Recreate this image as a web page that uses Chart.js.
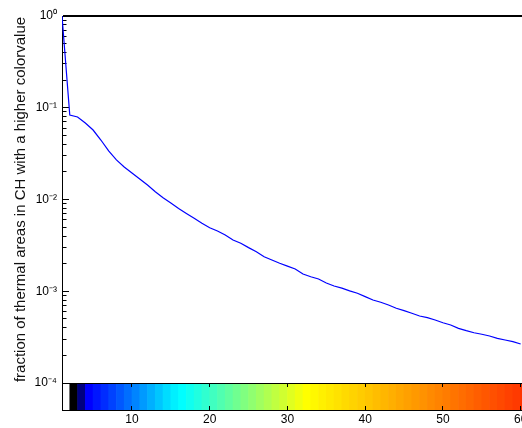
<!DOCTYPE html>
<html>
<head>
<meta charset="utf-8">
<script src="https://cdn.jsdelivr.net/npm/chart.js@4.4.0/dist/chart.umd.min.js"></script>
<style>
  html, body { margin: 0; padding: 0; background: #fff; overflow: hidden; width: 522px; height: 428px; }
  #wrap { width: 545px; height: 428px; }
</style>
</head>
<body>
<div id="wrap"><canvas id="myChart" width="545" height="428"></canvas></div>
<script>
// colour values (x) and the fraction of thermal areas above each one
const colorValues = [1, 2, 3, 4, 5, 6, 7, 8, 9, 10, 11, 12, 13, 14, 15, 16, 17, 18, 19, 20,
  21, 22, 23, 24, 25, 26, 27, 28, 29, 30, 31, 32, 33, 34, 35, 36, 37, 38, 39, 40,
  41, 42, 43, 44, 45, 46, 47, 48, 49, 50, 51, 52, 53, 54, 55, 56, 57, 58, 59, 60];

const fraction = [1.0, 0.0834, 0.0793, 0.0682, 0.0572, 0.0445, 0.0338, 0.0270, 0.0226, 0.01945,
  0.01673, 0.01439, 0.01216, 0.01047, 0.00916, 0.00798, 0.00704, 0.00624, 0.00550, 0.00493,
  0.00454, 0.00410, 0.00362, 0.00333, 0.00299, 0.00270, 0.00238, 0.00219, 0.00202, 0.00188,
  0.00175, 0.00154, 0.00144, 0.00136, 0.00123, 0.00114, 0.00108, 0.00101, 0.000950, 0.000873,
  0.000803, 0.000758, 0.000708, 0.000652, 0.000614, 0.000575, 0.000537, 0.000515, 0.000486, 0.000454,
  0.000429, 0.000394, 0.000372, 0.000353, 0.000340, 0.000325, 0.000307, 0.000294, 0.000282, 0.000266];

// colormap cells shown in the colorbar, one per colour value
const cellColors = ['#ffffff', '#000000', '#000080', '#0000ff', '#0016ff', '#002cff', '#0042ff', '#0058ff', '#006eff', '#0084ff',
  '#009aff', '#00b0ff', '#00c6ff', '#00dcff', '#00f0ff', '#00ffff', '#10fff0', '#20ffe0', '#30ffd0', '#40ffc0',
  '#50ffb0', '#60ffa0', '#70ff90', '#80ff80', '#90ff70', '#a0ff60', '#b0ff50', '#c0ff40', '#d0ff30', '#e0ff20',
  '#f0ff10', '#ffff00', '#fff800', '#fff000', '#ffe900', '#ffe200', '#ffda00', '#ffd300', '#ffcc00', '#ffc500',
  '#ffbd00', '#ffb600', '#ffaf00', '#ffa700', '#ffa000', '#ff9900', '#ff9200', '#ff8a00', '#ff8300', '#ff7c00',
  '#ff7400', '#ff6d00', '#ff6600', '#ff5e00', '#ff5700', '#ff5000', '#ff4900', '#ff4100', '#ff3a00', '#ff3300'];

const xTicks = [10, 20, 30, 40, 50, 60];
const decades = [1e-4, 1e-3, 1e-2, 1e-1, 1];
const decadeLabels = ['10⁻⁴', '10⁻³', '10⁻²', '10⁻¹', '10⁰'];
const minorSteps = [2, 3, 4, 5, 6, 7, 8, 9];

const yTickValues = [];
decades.forEach((d, i) => {
  yTickValues.push(d);
  if (i < decades.length - 1) minorSteps.forEach(m => yTickValues.push(d * m));
});

const decadeIndex = v => decades.findIndex(d => Math.abs(v / d - 1) < 1e-9);

const family = '"Liberation Sans", Arial, Helvetica, sans-serif';
const tickFont = { family: family, size: 12 };
const titleFont = { family: family, size: 15 };

const ctx = document.getElementById('myChart').getContext('2d');

new Chart(ctx, {
  type: 'line',
  data: {
    datasets: [
      {
        type: 'line',
        data: colorValues.map((x, i) => ({ x: x, y: fraction[i] })),
        borderColor: '#0000ff',
        borderWidth: 1.2,
        pointRadius: 0,
        tension: 0,
        fill: false,
        xAxisID: 'x',
        yAxisID: 'y',
        order: 0,
      },
      {
        // colorbar: one cell per colour value
        type: 'bar',
        data: colorValues.map(v => ({ x: v + 0.5, y: 1 })),
        backgroundColor: cellColors,
        borderWidth: 0,
        barPercentage: 1,
        categoryPercentage: 1,
        xAxisID: 'x',
        yAxisID: 'cb',
        order: 1,
      },
    ],
  },
  options: {
    responsive: false,
    animation: false,
    events: [],
    layout: { padding: { top: 16, right: 22, bottom: 0, left: 0 } },
    plugins: {
      legend: { display: false },
      tooltip: { enabled: false },
    },
    scales: {
      x: {
        type: 'linear',
        position: 'bottom',
        min: 1,
        max: 60.3,
        offset: false,
        afterBuildTicks: s => { s.ticks = xTicks.map(v => ({ value: v })); },
        afterFit: s => { s.height = 18; },
        ticks: { autoSkip: false, maxRotation: 0, padding: 2, color: '#000', font: tickFont },
        grid: { drawTicks: false, offset: false, color: '#000', lineWidth: 1, z: 1 },
        border: {
          color: '#000',
          z: 1,
          // short inward ticks on the top and bottom edge of the colorbar
          dash: c => {
            if (!c.tick) return [];
            const a = c.chart.chartArea;
            const cb = c.chart.scales.cb;
            if (!a || !cb) return [0, 5000];
            return [0, cb.top - a.top, 4, cb.bottom - cb.top - 8, 4, 5000];
          },
        },
      },
      // listed before y so that it is stacked underneath it
      cb: {
        type: 'linear',
        position: 'left',
        stack: 'left',
        stackWeight: 27,
        min: 0,
        max: 1,
        afterBuildTicks: s => { s.ticks = [{ value: 1 }]; },
        afterFit: s => { s.width = 62; },
        ticks: { display: false },
        grid: { drawTicks: false, color: '#000', lineWidth: 1, z: 1 },
        border: { color: '#000', width: 1, z: 1 },
      },
      y: {
        type: 'logarithmic',
        position: 'left',
        stack: 'left',
        stackWeight: 367,
        min: 1e-4,
        max: 1,
        afterBuildTicks: s => { s.ticks = yTickValues.map(v => ({ value: v, major: decadeIndex(v) >= 0 })); },
        afterFit: s => { s.width = 62; },
        ticks: {
          autoSkip: false,
          padding: 5,
          color: '#000',
          font: tickFont,
          callback: v => {
            const i = decadeIndex(v);
            return i >= 0 ? decadeLabels[i] : '';
          },
        },
        grid: {
          drawTicks: false,
          color: '#000',
          lineWidth: c => (c.tick && c.tick.value === 1 ? 2 : 1),
        },
        border: {
          color: '#000',
          width: 1,
          // inward tick marks, full line along the top
          dash: c => {
            if (!c.tick) return [];
            const v = c.tick.value;
            if (v === 1) return [];
            return decadeIndex(v) >= 0 ? [6, 3000] : [3.5, 3000];
          },
        },
        title: {
          display: true,
          text: 'fraction of thermal areas in CH with a higher colorvalue',
          color: '#111',
          font: titleFont,
          padding: { top: 12, bottom: 0 },
        },
      },
    },
  },
});
</script>
</body>
</html>
